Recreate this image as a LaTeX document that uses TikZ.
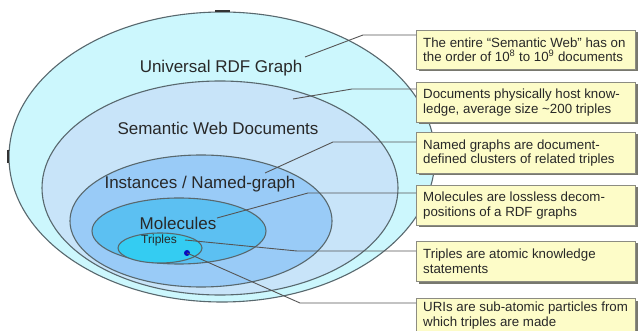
\documentclass[tikz,border=0pt]{standalone}
\usepackage{fontspec}
\setmainfont{Liberation Sans}
\begin{document}
\begin{tikzpicture}[x=1pt,y=-1pt,
  ell/.style={draw=ellline,line width=1.1pt},
  lbl/.style={text=txt,font=\fontsize{17}{19}\selectfont,inner sep=0pt},
  conn/.style={draw=connc,line width=0.9pt},
  note/.style={draw=boxline,fill=boxfill,line width=0.8pt,minimum width=219pt,anchor=north west,inner sep=0pt},
  notetxt/.style={text=txt,anchor=west,align=left,inner sep=0pt,font=\fontsize{13.3}{14.6}\selectfont},
  tick/.style={draw=black!80,line width=2pt}]
\definecolor{ellline}{RGB}{88,104,110}
\definecolor{connc}{RGB}{85,85,85}
\definecolor{txt}{RGB}{40,40,40}
\definecolor{boxline}{RGB}{140,140,130}
\definecolor{boxshadow}{RGB}{120,120,110}
\definecolor{boxfill}{RGB}{253,252,200}
\definecolor{eA}{RGB}{204,247,253}
\definecolor{eB}{RGB}{200,228,249}
\definecolor{eC}{RGB}{153,203,247}
\definecolor{eD}{RGB}{92,192,242}
\definecolor{eE}{RGB}{52,204,242}
\definecolor{dotc}{RGB}{10,10,190}
\useasboundingbox (0,0) rectangle (640,331);
\clip (0,0) rectangle (640,331);
\fill[white] (0,0) rectangle (640,331);
% ellipses
\draw[ell,fill=eA] (222,157) ellipse [x radius=213pt,y radius=145pt];
\draw[ell,fill=eB] (220,188) ellipse [x radius=178pt,y radius=107pt];
\draw[ell,fill=eC] (201,221) ellipse [x radius=131pt,y radius=66pt];
\draw[ell,fill=eD] (179,231) ellipse [x radius=87pt,y radius=33pt];
\draw[ell,fill=eE] (160,248) ellipse [x radius=42pt,y radius=15pt];
% selection ticks
\draw[tick] (215,11.5) -- (230,11.5);
\draw[tick] (7.5,150) -- (7.5,163);
% labels
\node[lbl] (lU) at (221,68) {Universal RDF Graph};
\node[lbl] (lS) at (218,128) {Semantic Web Documents};
\node[lbl] (lI) at (200,184) {Instances / Named-graph};
\node[lbl] (lM) at (178,223) {Molecules};
\node[lbl,font=\fontsize{12}{14}\selectfont] (lT) at (159,240) {Triples};
\fill[dotc] (187,253) circle [radius=3pt];
\coordinate (dot) at (187,253);
% boxes
\foreach \n/\t/\h in {b1/30/39,b2/82/40,b3/132/41,b4/185/40,b5/241/40,b6/298/50}{
  \fill[boxshadow] (418.5,\t+2.5) rectangle (637.5,\t+\h+2.5);
  \node[note,minimum height=\h pt] (\n) at (416,\t) {};
}
\node[notetxt] (t1) at ([xshift=7pt]b1.west) {The entire \char"201C Semantic Web\char"201D\ has on\\the order of 10\textsuperscript{8} to 10\textsuperscript{9} documents};
\node[notetxt] (t2) at ([xshift=7pt]b2.west) {Documents physically host know-\\ledge, average size \char"007E 200 triples};
\node[notetxt] (t3) at ([xshift=7pt]b3.west) {Named graphs are document-\\defined clusters of related triples};
\node[notetxt] (t4) at ([xshift=7pt]b4.west) {Molecules are lossless decom-\\positions of a RDF graphs};
\node[notetxt] (t5) at ([xshift=7pt]b5.west) {Triples are atomic knowledge\\statements};
\node[notetxt,anchor=north west] (t6) at (423,302) {URIs are sub-atomic particles from\\which triples are made};
% connectors
\coordinate (p1) at (305,57);  \coordinate (k1) at (363,35);
\coordinate (p2) at (293,99);  \coordinate (k2) at (352,89);
\coordinate (p3) at (265,173); \coordinate (k3) at (333,142);
\coordinate (p4) at (217,218); \coordinate (k4) at (308,193);
\coordinate (p5) at (185,240); \coordinate (k5) at (297,251);
\coordinate (k6) at (300,303);
\draw[conn] (p1) -- (k1) -- (k1 -| b1.west);
\draw[conn] (p2) -- (k2) -- (k2 -| b2.west);
\draw[conn] (p3) -- (k3) -- (k3 -| b3.west);
\draw[conn] (p4) -- (k4) -- (k4 -| b4.west);
\draw[conn] (p5) -- (k5) -- (k5 -| b5.west);
\draw[conn] (dot) -- (k6) -- (k6 -| b6.west);
\end{tikzpicture}
\end{document}
